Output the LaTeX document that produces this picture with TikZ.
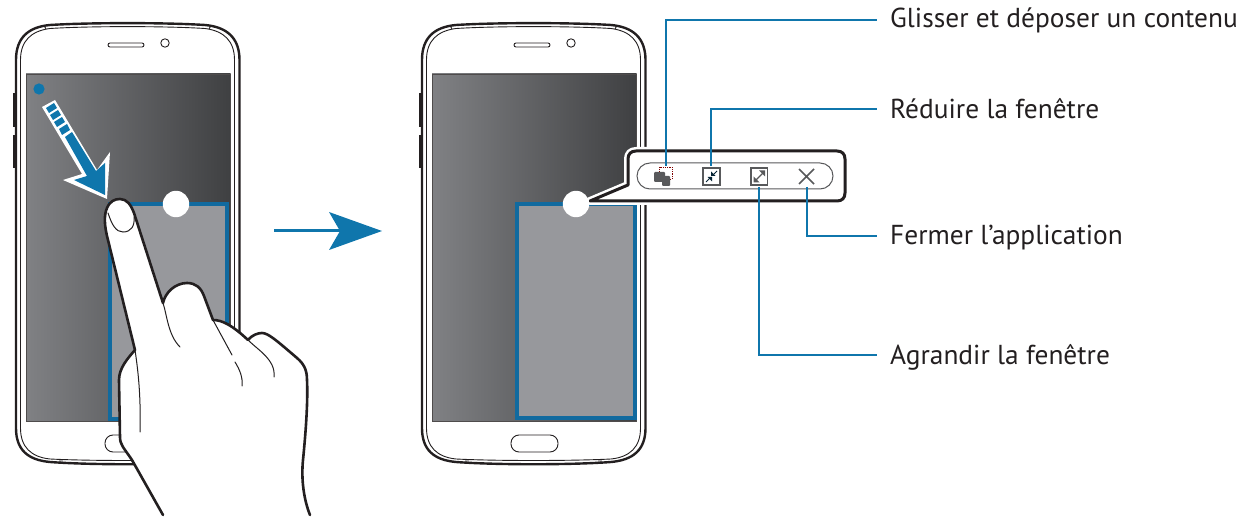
\documentclass[tikz,border=0pt]{standalone}
\usepackage{fontspec}
\setmainfont{PT Sans}
\definecolor{leader}{HTML}{0F76AC}
\definecolor{winblue}{HTML}{116A9F}
\definecolor{wingray}{HTML}{97989C}
\definecolor{ink}{HTML}{231F20}
\definecolor{scrA}{HTML}{808184}
\definecolor{scrB}{HTML}{3F4042}
\definecolor{ico}{HTML}{58595B}
\tikzset{
  body/.style={draw=ink,line width=2.4pt,fill=white},
  thin line/.style={draw=ink,line width=0.9pt},
  lead/.style={draw=leader,line width=2.5pt},
  lab/.style={anchor=base west,font=\fontsize{27.4pt}{32pt}\selectfont,text=ink,inner sep=0pt},
  hand/.style={draw=ink,line width=2.6pt,line cap=round,line join=round},
  crease/.style={draw=ink,line width=1pt,line cap=round},
  icon/.style={draw=ico,line width=1.6pt}
}
\newcommand{\phone}[1]{
 \begin{scope}[xshift=#1]
  \fill[ink] (12.5,93) rectangle (16,127);
  \fill[ink] (12.5,135) rectangle (16,168);
  \path[body] (16,60) .. controls (16,38) and (28,27) .. (50,25) .. controls (90,22.5) and (165,22.5) .. (205,25) .. controls (227,27) and (239.5,38) .. (239.5,60) -- (239.5,428) .. controls (239.5,450) and (227,460) .. (205,462) .. controls (165,465) and (90,465) .. (50,462) .. controls (28,460) and (16,450) .. (16,428) -- cycle;
  \path[thin line] (20.5,60) .. controls (20.5,41) and (31,31) .. (50,28.5) .. controls (90,26) and (165,26) .. (205,28.5) .. controls (224,31) and (234.5,41) .. (234.5,60) -- (234.5,428) .. controls (234.5,447) and (224,457) .. (205,459) .. controls (165,461) and (90,461) .. (50,459) .. controls (31,457) and (20.5,447) .. (20.5,428) -- cycle;
  \path[thin line] (44,25.5) -- (46,29) (211,25.5) -- (209,29) (60,459) -- (60,463) (62,459) -- (62,463) (193,459) -- (193,463) (195,459) -- (195,463);
  \path[thin line,rounded corners=2pt] (108,43) rectangle (144,47);
  \path[thin line] (165,43) circle (4.2);
  \path[thin line,rounded corners=8pt] (105,435) rectangle (152,452);
  \shade[left color=scrA,right color=scrB] (26,74) rectangle (230.5,421);
  \draw[ink!80,line width=.8pt] (26,74) rectangle (230.5,421);
 \end{scope}
}
\begin{document}
\begin{tikzpicture}[x=1pt,y=-1pt]
\useasboundingbox (0,0) rectangle (1245,526);
% phone left
\phone{0pt}
\fill[wingray] (110,204.5) rectangle (227,419);
\draw[winblue,line width=4pt] (110,204.5) -- (227,204.5) -- (227,419) -- (110,419) -- cycle;
\fill[white] (176,204) circle (13.2);
% start dot and arrow
\fill[leader] (39,89) circle (5.6);
\path[fill=white] (42,107) -- (55,100) -- (97,170) -- (110,152) -- (107,199) -- (63,180) -- (82,174) -- cycle;
\path[fill=leader] (65,137) -- (72,132) -- (96,171) -- (105,163) -- (105,195) -- (74,180) -- (87,176) -- cycle;
\fill[leader] (46,108) -- (54,103) -- (57,108) -- (49,113) -- cycle;
\fill[leader] (50,115) -- (58,110) -- (61,115) -- (53,120) -- cycle;
\fill[leader] (54,122) -- (62,117) -- (65,122) -- (57,127) -- cycle;
\fill[leader] (59,129) -- (67,124) -- (70,130) -- (62,135) -- cycle;
% hand
\path[fill=white] (163,515) -- (132,460) .. controls (124,448) and (120,445) .. (120,437) -- (119,380) .. controls (119,368) and (128,358) .. (135,350) -- (108,240) .. controls (104,225) and (104,215) .. (107,208) .. controls (110,201) and (115,199) .. (120,199) .. controls (127,199) and (131,205) .. (134,213) -- (163,303) .. controls (165,293) and (175,283) .. (187,283) .. controls (196,283) and (201,288) .. (204,296) -- (213,320) .. controls (222,320) and (232,325) .. (248,340) .. controls (252,335) and (258,333) .. (262,333) .. controls (268,333) and (276,340) .. (297,358) .. controls (304,364) and (307,370) .. (307,380) .. controls (308,400) and (306,430) .. (303,460) .. controls (301,480) and (304,500) .. (310,515) -- cycle;
\path[hand] (163,515) -- (132,460) .. controls (124,448) and (120,445) .. (120,437) -- (119,380) .. controls (119,368) and (128,358) .. (135,350) -- (108,240) .. controls (104,225) and (104,215) .. (107,208) .. controls (110,201) and (115,199) .. (120,199) .. controls (127,199) and (131,205) .. (134,213) -- (163,303) .. controls (165,293) and (175,283) .. (187,283) .. controls (196,283) and (201,288) .. (204,296) -- (213,320) .. controls (222,320) and (232,325) .. (248,340) .. controls (252,335) and (258,333) .. (262,333) .. controls (268,333) and (276,340) .. (297,358) .. controls (304,364) and (307,370) .. (307,380) .. controls (308,400) and (306,430) .. (303,460) .. controls (301,480) and (304,500) .. (310,515);
\path[crease] (108,213) .. controls (112,225) and (116,232) .. (123,232) .. controls (131,232) and (135,226) .. (134,217);
\path[crease] (163,303) .. controls (167,315) and (168,335) .. (180,347);
\path[crease] (213,320) -- (232,355);
\path[crease] (235,362) .. controls (240,370) and (243,378) .. (242,386);
\path[crease] (248,340) .. controls (258,350) and (276,360) .. (274,377);
\path[crease] (135,350) .. controls (138,370) and (141,395) .. (140,432);
% movement arrow
\draw[leader,line width=3pt] (274,231) -- (340,231);
\fill[leader] (382,231) -- (329,212) -- (340,231) -- (329,250) -- cycle;
% phone right
\phone{406pt}
\fill[wingray] (517,204.5) rectangle (634.5,418.5);
\draw[winblue,line width=4pt] (517,204.5) -- (634.5,204.5) -- (634.5,418.5) -- (517,418.5) -- cycle;
% bubble
\path[draw=white,line width=8pt,line join=round] (590,201) -- (628,185) -- (628,159) .. controls (628,154) and (631,151) .. (636,151) -- (837,151) .. controls (842,151) and (845,154) .. (845,159) -- (845,193) .. controls (845,198) and (842,201) .. (837,201) -- cycle;
\path[draw=ink,fill=white,line width=3pt,line join=round] (590,201) -- (628,185) -- (628,159) .. controls (628,154) and (631,151) .. (636,151) -- (837,151) .. controls (842,151) and (845,154) .. (845,159) -- (845,193) .. controls (845,198) and (842,201) .. (837,201) -- cycle;
\fill[white] (576,204) circle (13.2);
\draw[ico,line width=1pt,rounded corners=13pt] (637,163) rectangle (833,189);
% leaders
\coordinate (c1) at (666,20); \coordinate (c2) at (711,109); \coordinate (c3) at (807,236); \coordinate (c4) at (759,355);
\node[lab] (t1) at (890,28) {Glisser et déposer un contenu};
\node[lab] (t2) at (890,119) {Réduire la fenêtre};
\node[lab] (t3) at (890,245) {Fermer l’application};
\node[lab] (t4) at (890,365) {Agrandir la fenêtre};
\coordinate (e1) at (877,20); \coordinate (e2) at (877,109); \coordinate (e3) at (877,236); \coordinate (e4) at (877,355);
\coordinate (s1) at (666,166); \coordinate (s2) at (711,166); \coordinate (s3) at (807,187); \coordinate (s4) at (759,187);
\draw[lead] (s1) -- (c1) -- (e1);
\draw[lead] (s2) -- (c2) -- (e2);
\draw[lead] (s3) -- (c3) -- (e3);
\draw[lead] (s4) -- (c4) -- (e4);
% icon1
\draw[red!50!black,densely dotted,line width=.8pt] (659,167) rectangle (672,179);
\fill[ico,rounded corners=1pt] (654,172) rectangle (665,182);
\fill[ico,rounded corners=1pt] (662,176) rectangle (670,186);
% icon2
\draw[icon] (703,168) rectangle (720,185);
\draw[leader!30!black,line width=1pt] (706,182) -- (710,178) (717,171) -- (713,175);
\fill[leader!30!black] (712,177) -- (712,181.5) -- (707.5,177) -- cycle;
\fill[leader!30!black] (711,176) -- (711,171.5) -- (715.5,176) -- cycle;
% icon3
\draw[icon] (751,168) rectangle (767.5,185);
\draw[ico,line width=1.2pt] (755,181) -- (764,172);
\fill[ico] (753.5,182.5) -- (753.5,176.5) -- (759.5,182.5) -- cycle;
\fill[ico] (765,170.5) -- (765,176.5) -- (759,170.5) -- cycle;
% close
\draw[ico,line width=1.7pt] (799,169) -- (814,184) (814,169) -- (799,184);
\end{tikzpicture}
\end{document}
